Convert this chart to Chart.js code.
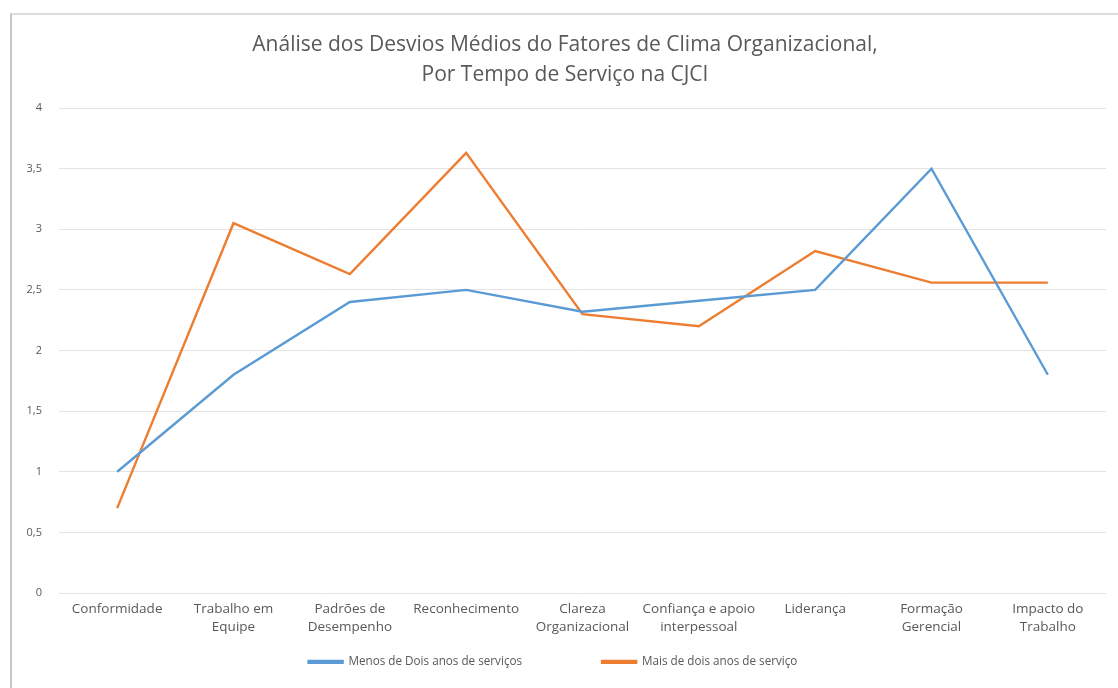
<!DOCTYPE html>
<html>
<head>
<meta charset="utf-8">
<script src="https://cdn.jsdelivr.net/npm/chart.js@4/dist/chart.umd.min.js"></script>
<style>
    body { margin: 0; background: #fff; }
    #wrap { position: absolute; left: 0; top: 0; width: 1118px; height: 688px; }
    #frame { position: absolute; left: 10px; top: 13px; width: 1200px; height: 800px;
             border-left: 2px solid #c8c8c8; border-top: 2px solid #dcdcdc; }
    canvas { position: absolute; left: 0; top: 0; }
</style>
</head>
<body>
<div id="wrap">
    <div id="frame"></div>
    <canvas id="wtkChart" width="1118" height="688"></canvas>
</div>
<script>
// categorias e valores
var chartLabels = ['Conformidade', ['Trabalho em', 'Equipe'], ['Padrões de', 'Desempenho'], 'Reconhecimento',
    ['Clareza', 'Organizacional'], ['Confiança e apoio', 'interpessoal'], 'Liderança', ['Formação', 'Gerencial'],
    ['Impacto do', 'Trabalho']];
var menosDoisAnos = [1.0, 1.8, 2.4, 2.5, 2.32, 2.41, 2.5, 3.5, 1.8];
var maisDoisAnos = [0.7, 3.05, 2.63, 3.63, 2.3, 2.2, 2.82, 2.56, 2.56];
var seriesNames = ['Menos de Dois anos de serviços', 'Mais de dois anos de serviço'];
var chartTitle = ['Análise dos Desvios Médios do Fatores de Clima Organizacional,', 'Por Tempo de Serviço na CJCI'];

var txtColor = '#595959';
var gridColor = '#e3e3e3';
var fontFam = '"Open Sans", "Liberation Sans", sans-serif';

var legendSpacing = 80; // espaco entre itens da legenda
var legendGap = 19;     // espaco vertical acima da legenda
var titleOffset = 12;   // titulo fica um pouco a direita do centro

// a legenda usa o mesmo padding na horizontal e na vertical, entao sobe o topo dela depois do layout
var boxShift = {
    id: 'boxShift',
    afterLayout: function (chart) {
        var lg = chart.legend;
        lg.top -= (legendSpacing - legendGap);
        lg.height = lg.bottom - lg.top;
        var tb = chart.titleBlock;
        tb.left += titleOffset;
        tb.right += titleOffset;
    }
};

var ctx = document.getElementById('wtkChart').getContext('2d');
var wtkChart = new Chart(ctx, {
    type: 'line',
    data: {
        labels: chartLabels,
        datasets: [{
            label: seriesNames[0],
            data: menosDoisAnos,
            borderColor: '#5b9bd5',
            backgroundColor: '#5b9bd5',
            borderWidth: 2.4,
            pointRadius: 0,
            tension: 0
        }, {
            label: seriesNames[1],
            data: maisDoisAnos,
            borderColor: '#ed7d31',
            backgroundColor: '#ed7d31',
            borderWidth: 2.4,
            pointRadius: 0,
            tension: 0
        }]
    },
    plugins: [boxShift],
    options: {
        responsive: false,
        animation: false,
        layout: { padding: { top: 0, right: 12, bottom: 10, left: 0 } },
        plugins: {
            title: {
                display: true,
                text: chartTitle,
                color: txtColor,
                font: { family: fontFam, size: 21, weight: 'normal', lineHeight: 30 / 21 },
                padding: { top: 30, bottom: 18 }
            },
            legend: {
                position: 'bottom',
                maxHeight: 41,
                labels: {
                    color: txtColor,
                    font: { family: fontFam, size: 11.7 },
                    boxWidth: 34,
                    boxHeight: 2,
                    padding: legendSpacing
                }
            },
            tooltip: { enabled: false }
        },
        scales: {
            x: {
                offset: true,
                afterFit: function (scale) { scale.height = 44; },
                grid: { display: false, drawTicks: false },
                border: { display: false },
                ticks: {
                    color: txtColor,
                    font: { family: fontFam, size: 13.5, lineHeight: 18 / 13.5 },
                    padding: 7,
                    maxRotation: 0,
                    autoSkip: false
                }
            },
            y: {
                min: 0,
                max: 4,
                afterFit: function (scale) { scale.width = 59; },
                grid: { color: gridColor, drawTicks: false },
                border: { display: false },
                ticks: {
                    stepSize: 0.5,
                    color: txtColor,
                    font: { family: fontFam, size: 11 },
                    padding: 17,
                    callback: function (v) { return String(v).replace('.', ','); }
                }
            }
        }
    }
});
</script>
</body>
</html>
